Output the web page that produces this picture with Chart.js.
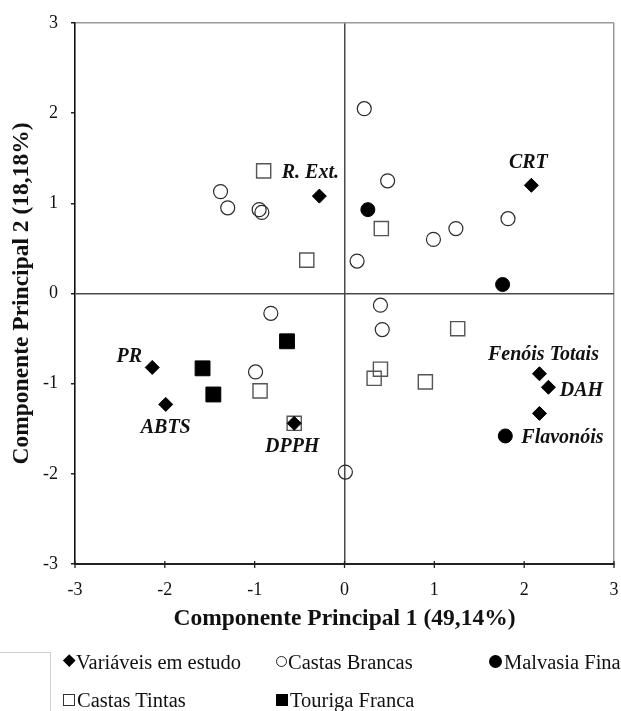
<!DOCTYPE html>
<html>
<head>
<meta charset="utf-8">
<script src="https://cdn.jsdelivr.net/npm/chart.js@4.4.1/dist/chart.umd.min.js"></script>
<style>
  html, body { margin: 0; padding: 0; background: #fff; }
  #wrap { position: relative; width: 621px; height: 711px; overflow: hidden; }
  #chart { position: absolute; left: 0; top: 0; }
  .lg { position: absolute; height: 24px; line-height: 24px; font-family: "Liberation Serif", "Times New Roman", serif; font-size: 20.5px; color: #111; white-space: nowrap; }
  .mk { position: absolute; box-sizing: border-box; }
  #gbox { position: absolute; left: -2px; top: 652px; width: 52px; height: 70px; border-top: 1px solid #cfcfcf; border-right: 1px solid #cfcfcf; }
</style>
</head>
<body>
<div id="wrap">
  <canvas id="chart" width="621" height="711"></canvas>
  <div id="gbox"></div>
  <!-- legend -->
  <div class="mk" style="left:65px;top:656px;width:8.5px;height:8.5px;background:#000;transform:rotate(45deg);"></div>
  <div class="lg" id="lg0" style="left:76px;top:650px;"></div>
  <div class="mk" style="left:276px;top:656px;width:11px;height:11px;border:1.3px solid #222;border-radius:50%;"></div>
  <div class="lg" id="lg1" style="left:288px;top:650px;"></div>
  <div class="mk" style="left:489px;top:655px;width:13px;height:13px;background:#000;border-radius:50%;"></div>
  <div class="lg" id="lg2" style="left:504px;top:650px;"></div>
  <div class="mk" style="left:63px;top:694px;width:12px;height:12px;border:1.3px solid #333;"></div>
  <div class="lg" id="lg3" style="left:77px;top:688px;"></div>
  <div class="mk" style="left:276px;top:694px;width:12px;height:12px;background:#000;"></div>
  <div class="lg" id="lg4" style="left:290px;top:688px;"></div>
</div>
<script>
// ---------------- data ----------------
const seriesNames = ['Variáveis em estudo', 'Castas Brancas', 'Malvasia Fina', 'Castas Tintas', 'Touriga Franca'];

const varLabels = ['R. Ext.', 'CRT', 'PR', 'ABTS', 'DPPH', 'Fenóis Totais', 'DAH', 'Flavonóis'];
const varX = [-0.28, 2.08, -2.14, -1.99, -0.56, 2.17, 2.27, 2.17];
const varY = [1.08, 1.20, -0.82, -1.23, -1.44, -0.89, -1.04, -1.33];

const brancasX = [-1.38, -1.30, -0.95, -0.92, 0.14, 0.22, 0.48, 0.99, 1.24, 1.82, -0.82, -0.99, 0.01, 0.40, 0.42];
const brancasY = [1.13, 0.95, 0.93, 0.90, 0.36, 2.05, 1.25, 0.60, 0.72, 0.83, -0.22, -0.87, -1.98, -0.13, -0.40];

const malvasiaX = [0.26, 1.76, 1.79];
const malvasiaY = [0.93, 0.10, -1.58];

const tintasX = [-0.90, -0.42, 0.41, -0.94, -0.56, 1.26, 0.40, 0.33, 0.90];
const tintasY = [1.36, 0.37, 0.72, -1.08, -1.44, -0.39, -0.84, -0.94, -0.98];

const tourigaX = [-0.64, -1.58, -1.46];
const tourigaY = [-0.53, -0.83, -1.12];

const tickValues = [-3, -2, -1, 0, 1, 2, 3];
const xTitle = 'Componente Principal 1 (49,14%)';
const yTitle = 'Componente Principal 2 (18,18%)';

// ---------------- label placement (pixel offsets from the marker) ----------------
const labelOffsets = [[-9, -23], [-3, -22], [-23, -11], [0, 23], [-2, 23], [4, -19], [33, 4], [23, 24]];

const pts = (xs, ys) => xs.map((x, i) => ({ x: x, y: ys[i] }));

// legend texts
seriesNames.forEach((n, i) => { document.getElementById('lg' + i).textContent = n; });

const SERIF = '"Liberation Serif", "Times New Roman", serif';

const labelPlugin = {
  id: 'varLabels',
  afterDatasetsDraw(chart) {
    const meta = chart.getDatasetMeta(0);
    const ctx = chart.ctx;
    ctx.save();
    ctx.font = 'italic bold 20px ' + SERIF;
    ctx.fillStyle = '#111';
    ctx.textAlign = 'center';
    ctx.textBaseline = 'middle';
    meta.data.forEach((el, i) => {
      const off = labelOffsets[i];
      ctx.fillText(varLabels[i], el.x + off[0], el.y + off[1]);
    });
    ctx.restore();
  }
};

// small tick marks crossing the horizontal axis
const xTickMarks = {
  id: 'xTickMarks',
  afterDraw(chart) {
    const s = chart.scales.x;
    const ctx = chart.ctx;
    const b = chart.chartArea.bottom;
    ctx.save();
    ctx.strokeStyle = '#222';
    ctx.lineWidth = 1.3;
    s.ticks.forEach(t => {
      const px = s.getPixelForValue(t.value);
      ctx.beginPath();
      ctx.moveTo(px, b - 3);
      ctx.lineTo(px, b + 4);
      ctx.stroke();
    });
    ctx.restore();
  }
};

function gridColor(edgeVal) {
  return (c) => {
    if (!c.tick) return 'transparent';
    if (c.tick.value === 0) return '#4a4a4a';
    if (c.tick.value === edgeVal) return '#9a9a9a';
    return 'transparent';
  };
}

new Chart(document.getElementById('chart'), {
  type: 'scatter',
  data: {
    datasets: [
      { label: seriesNames[0], data: pts(varX, varY), pointStyle: 'rectRot', pointRadius: 7, backgroundColor: '#000', borderColor: '#000', borderWidth: 1 },
      { label: seriesNames[1], data: pts(brancasX, brancasY), pointStyle: 'circle', pointRadius: 7, backgroundColor: 'rgba(255,255,255,0)', borderColor: '#2a2a2a', borderWidth: 1.2 },
      { label: seriesNames[2], data: pts(malvasiaX, malvasiaY), pointStyle: 'circle', pointRadius: 7, backgroundColor: '#000', borderColor: '#000', borderWidth: 1 },
      { label: seriesNames[3], data: pts(tintasX, tintasY), pointStyle: 'rect', pointRadius: 10, backgroundColor: 'rgba(255,255,255,0)', borderColor: '#555', borderWidth: 1.4 },
      { label: seriesNames[4], data: pts(tourigaX, tourigaY), pointStyle: 'rect', pointRadius: 10.5, backgroundColor: '#000', borderColor: '#000', borderWidth: 1 }
    ]
  },
  options: {
    responsive: false,
    animation: false,
    layout: { autoPadding: false, padding: { left: 0, right: 7, top: 23, bottom: 75 } },
    plugins: { legend: { display: false }, tooltip: { enabled: false } },
    scales: {
      x: {
        type: 'linear', position: 'bottom', min: -3, max: 3,
        afterBuildTicks: (s) => { s.ticks = tickValues.map(v => ({ value: v })); },
        ticks: { color: '#111', font: { family: SERIF, size: 18 }, padding: 0, callback: (v) => String(v) },
        grid: { color: gridColor(3), lineWidth: 1.5, tickColor: 'transparent', tickLength: 15, drawTicks: true },
        border: { color: '#222', width: 2 },
        title: { display: true, text: xTitle, color: '#111', font: { family: SERIF, size: 23.5, weight: 'bold', lineHeight: 1.2 }, padding: { top: 0, bottom: 3 } },
        afterFit: (s) => { s.height = 72; s.paddingLeft = 0; s.paddingRight = 0; }
      },
      y: {
        type: 'linear', position: 'left', min: -3, max: 3,
        afterBuildTicks: (s) => { s.ticks = tickValues.map(v => ({ value: v })); },
        ticks: { color: '#111', font: { family: SERIF, size: 18 }, padding: 13, callback: (v) => String(v) },
        grid: { color: gridColor(3), lineWidth: 1.5, tickColor: '#222', tickLength: 4, drawTicks: true },
        border: { color: '#111', width: 1.6 },
        title: { display: true, text: yTitle, color: '#111', font: { family: SERIF, size: 23.5, weight: 'bold', lineHeight: 1.2 }, padding: { top: 8, bottom: 0 } },
        afterFit: (s) => { s.width = 75; s.paddingTop = 0; s.paddingBottom = 0; }
      }
    }
  },
  plugins: [labelPlugin, xTickMarks]
});
</script>
</body>
</html>
